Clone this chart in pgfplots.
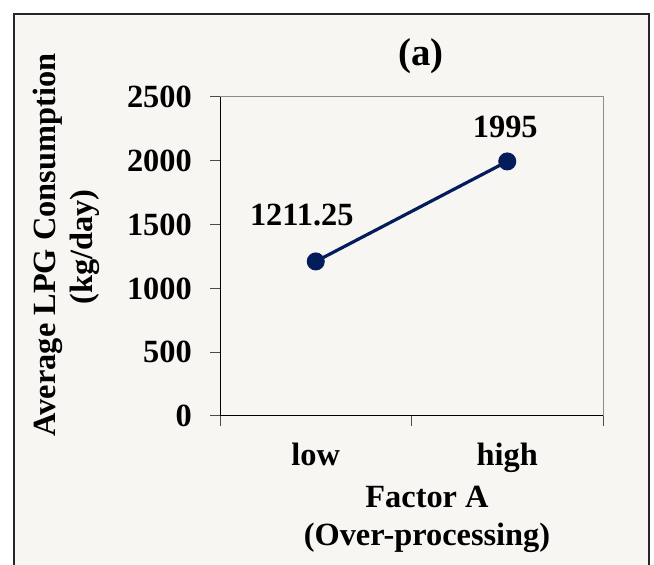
\documentclass[border=0pt]{standalone}
\usepackage{fontspec}
\setmainfont{Liberation Serif}
\usepackage{pgfplots}
\pgfplotsset{compat=1.18}
\definecolor{panelbg}{RGB}{247,246,242}
\definecolor{navy}{RGB}{5,28,92}
\definecolor{boxgray}{RGB}{140,140,140}

\begin{document}
\begin{tikzpicture}[font=\fontsize{32.5}{39}\selectfont\bfseries]
\useasboundingbox (0,0) rectangle (654bp,565bp);
\clip (0,0) rectangle (654bp,565bp);
\fill[white] (0,0) rectangle (654bp,565bp);
\draw[black!85, line width=2bp, fill=panelbg] (14bp,-20bp) rectangle (649bp,551bp);

\begin{axis}[
    at={(220bp,149bp)}, anchor=south west,
    width=383bp, height=319bp, scale only axis,
    xmin=0, xmax=2, ymin=0, ymax=2500,
    ytick={0,500,...,2500},
    xtick={0.5,1.5}, xticklabels={low,high},
    xtick style={draw=none},
    extra x ticks={0,1,2}, extra x tick labels={},
    extra x tick style={major tick length=10bp, xtick style={draw=black!70}},
    major tick length=10bp,
    tick align=outside, tick pos=left,
    tick style={black!70, line width=1bp},
    axis line style={boxgray, line width=1bp},
    /pgf/number format/assume math mode=true,
    /pgf/number format/1000 sep={},
    yticklabel style={anchor=east, inner sep=0pt, xshift=-18bp},
    xticklabel style={anchor=base, inner sep=0pt, yshift=-39bp},
]
\addplot[navy, line width=3.2bp, mark=*, mark size=8.5bp,
    mark options={fill=navy, draw=navy, line width=1bp}]
    coordinates {(0.5,1211.25) (1.5,1995)};
\draw[black, line width=1bp] (rel axis cs:0,1) -- (rel axis cs:0,0) -- (rel axis cs:1,0);
\node[anchor=base, xshift=-14bp, yshift=36bp] at (axis cs:0.5,1211.25) {1211.25};
\node[anchor=base, xshift=-2bp, yshift=24bp] at (axis cs:1.5,1995) {1995};
\end{axis}

\node[anchor=base, font=\fontsize{39}{46}\selectfont\bfseries] at (421bp,499bp) {(a)};
\node[anchor=base] at (427bp,57bp) {Factor A};
\node[anchor=base] at (427bp,20bp) {(Over-processing)};
\node[anchor=base, rotate=90] at (55bp,320bp) {Average LPG Consumption};
\node[anchor=base, rotate=90] at (92bp,318bp) {(kg/day)};
\end{tikzpicture}
\end{document}
